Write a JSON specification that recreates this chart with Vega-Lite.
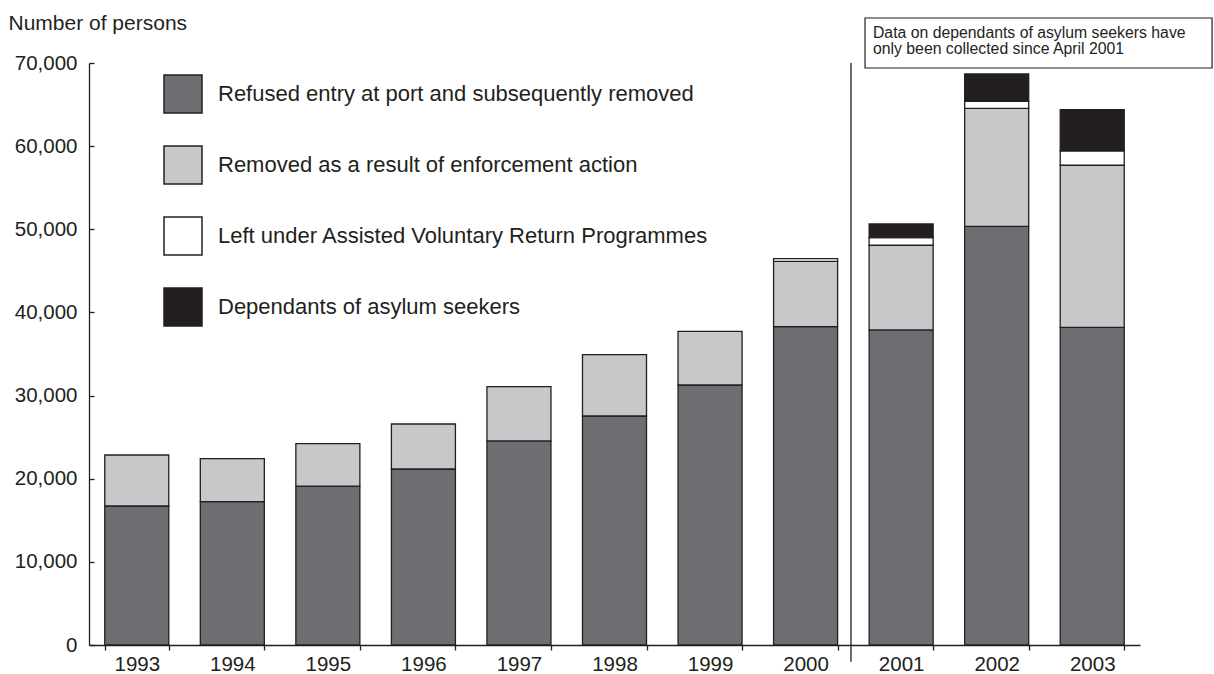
{
  "$schema": "https://vega.github.io/schema/vega-lite/v6.json",
  "width": 1051,
  "height": 582,
  "autosize": {"type": "none"},
  "padding": {"left": 89, "top": 63, "right": 74, "bottom": 29},
  "background": "white",
  "config": {"font": "Liberation Sans", "view": {"stroke": null}},
  "datasets": {
    "bars": [
      {"year": "1993", "category": "Refused entry at port and subsequently removed", "k": 1, "value": 16720},
      {"year": "1993", "category": "Removed as a result of enforcement action", "k": 2, "value": 6130},
      {"year": "1994", "category": "Refused entry at port and subsequently removed", "k": 1, "value": 17240},
      {"year": "1994", "category": "Removed as a result of enforcement action", "k": 2, "value": 5170},
      {"year": "1995", "category": "Refused entry at port and subsequently removed", "k": 1, "value": 19120},
      {"year": "1995", "category": "Removed as a result of enforcement action", "k": 2, "value": 5090},
      {"year": "1996", "category": "Refused entry at port and subsequently removed", "k": 1, "value": 21170},
      {"year": "1996", "category": "Removed as a result of enforcement action", "k": 2, "value": 5410},
      {"year": "1997", "category": "Refused entry at port and subsequently removed", "k": 1, "value": 24540},
      {"year": "1997", "category": "Removed as a result of enforcement action", "k": 2, "value": 6530},
      {"year": "1998", "category": "Refused entry at port and subsequently removed", "k": 1, "value": 27540},
      {"year": "1998", "category": "Removed as a result of enforcement action", "k": 2, "value": 7380},
      {"year": "1999", "category": "Refused entry at port and subsequently removed", "k": 1, "value": 31270},
      {"year": "1999", "category": "Removed as a result of enforcement action", "k": 2, "value": 6460},
      {"year": "2000", "category": "Refused entry at port and subsequently removed", "k": 1, "value": 38290},
      {"year": "2000", "category": "Removed as a result of enforcement action", "k": 2, "value": 7860},
      {"year": "2000", "category": "Left under Assisted Voluntary Return Programmes", "k": 3, "value": 310},
      {"year": "2001", "category": "Refused entry at port and subsequently removed", "k": 1, "value": 37890},
      {"year": "2001", "category": "Removed as a result of enforcement action", "k": 2, "value": 10190},
      {"year": "2001", "category": "Left under Assisted Voluntary Return Programmes", "k": 3, "value": 910},
      {"year": "2001", "category": "Dependants of asylum seekers", "k": 4, "value": 1650},
      {"year": "2002", "category": "Refused entry at port and subsequently removed", "k": 1, "value": 50360},
      {"year": "2002", "category": "Removed as a result of enforcement action", "k": 2, "value": 14190},
      {"year": "2002", "category": "Left under Assisted Voluntary Return Programmes", "k": 3, "value": 850},
      {"year": "2002", "category": "Dependants of asylum seekers", "k": 4, "value": 3280},
      {"year": "2003", "category": "Refused entry at port and subsequently removed", "k": 1, "value": 38210},
      {"year": "2003", "category": "Removed as a result of enforcement action", "k": 2, "value": 19490},
      {"year": "2003", "category": "Left under Assisted Voluntary Return Programmes", "k": 3, "value": 1720},
      {"year": "2003", "category": "Dependants of asylum seekers", "k": 4, "value": 4970}
    ],
    "sep": [{"x": 7.975, "y": 70000, "y2": -2000}],
    "note": [{"x": 8.122, "x2": 11.754, "y": 75415, "y2": 69400}],
    "noteText": [
      {"x": 8.205, "y": 73010, "text": "Data on dependants of asylum seekers have"},
      {"x": 8.205, "y": 71085, "text": "only been collected since April 2001"}
    ]
  },
  "layer": [
    {
      "data": {"name": "bars"},
      "mark": {"type": "bar", "stroke": "#231f20", "strokeWidth": 1.3},
      "encoding": {
        "x": {
          "field": "year", "type": "nominal",
          "scale": {"paddingInner": 0.33, "paddingOuter": 0.165},
          "axis": {
            "title": null, "labelAngle": 0, "labelFontSize": 20.5, "labelColor": "#231f20",
            "tickBand": "extent", "tickSize": 5, "tickColor": "#231f20", "domainColor": "#231f20",
            "labelPadding": 4, "domainWidth": 1.3, "tickWidth": 1.3
          }
        },
        "y": {
          "field": "value", "type": "quantitative", "stack": "zero",
          "scale": {"domain": [0, 70000], "nice": false},
          "axis": {
            "title": "Number of persons", "titleAngle": 0, "titleAlign": "left", "titleBaseline": "alphabetic",
            "titleX": -81, "titleY": -34, "titleFontSize": 21, "titleFontWeight": "normal", "titleColor": "#231f20",
            "values": [0, 10000, 20000, 30000, 40000, 50000, 60000, 70000], "format": ",d",
            "grid": false, "labelFontSize": 20.5, "labelColor": "#231f20", "tickSize": -5, "labelPadding": 17,
            "tickColor": "#231f20", "domainColor": "#231f20", "domainWidth": 1.3, "tickWidth": 1.3
          }
        },
        "color": {
          "field": "category", "type": "nominal",
          "scale": {
            "domain": ["Refused entry at port and subsequently removed", "Removed as a result of enforcement action", "Left under Assisted Voluntary Return Programmes", "Dependants of asylum seekers"],
            "range": ["#6d6e72", "#c7c8ca", "#ffffff", "#231f20"]
          },
          "legend": {
            "title": null, "orient": "none", "legendX": 74, "legendY": 11, "direction": "vertical",
            "symbolType": "square", "symbolSize": 1444, "symbolStrokeColor": "#231f20", "symbolStrokeWidth": 1.5,
            "symbolOpacity": 1, "labelFontSize": 22, "labelColor": "#231f20", "labelOffset": 15, "rowPadding": 27,
            "labelLimit": 0, "padding": 0
          }
        },
        "order": {"field": "k", "type": "quantitative"}
      }
    },
    {
      "data": {"name": "sep"},
      "mark": {"type": "rule", "stroke": "#231f20", "strokeWidth": 1.3},
      "encoding": {
        "x": {"field": "x", "type": "quantitative", "scale": {"domain": [0, 11], "nice": false, "zero": false}, "axis": null},
        "y": {"field": "y", "type": "quantitative", "scale": {"domain": [0, 70000], "nice": false}, "axis": null},
        "y2": {"field": "y2"}
      }
    },
    {
      "data": {"name": "note"},
      "mark": {"type": "rect", "fill": "white", "stroke": "#231f20", "strokeWidth": 1.2},
      "encoding": {
        "x": {"field": "x", "type": "quantitative", "scale": {"domain": [0, 11], "nice": false, "zero": false}, "axis": null},
        "x2": {"field": "x2"},
        "y": {"field": "y", "type": "quantitative", "scale": {"domain": [0, 70000], "nice": false}, "axis": null},
        "y2": {"field": "y2"}
      }
    },
    {
      "data": {"name": "noteText"},
      "mark": {"type": "text", "align": "left", "baseline": "alphabetic", "fontSize": 15.8, "color": "#231f20"},
      "encoding": {
        "x": {"field": "x", "type": "quantitative", "scale": {"domain": [0, 11], "nice": false, "zero": false}, "axis": null},
        "y": {"field": "y", "type": "quantitative", "scale": {"domain": [0, 70000], "nice": false}, "axis": null},
        "text": {"field": "text"}
      }
    }
  ],
  "resolve": {
    "scale": {"x": "independent", "y": "independent"},
    "axis": {"x": "independent", "y": "independent"}
  }
}
